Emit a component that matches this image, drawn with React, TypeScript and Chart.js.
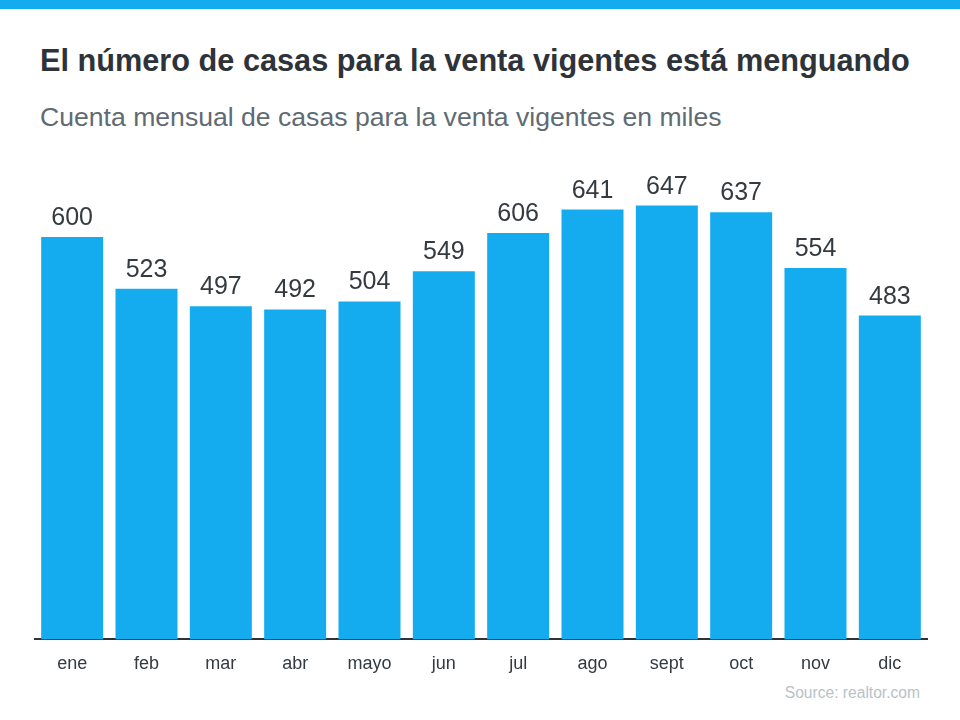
import React, { useEffect, useRef } from "react";
import { Chart, registerables } from "chart.js";

Chart.register(...registerables);

const categories = ["ene", "feb", "mar", "abr", "mayo", "jun", "jul", "ago", "sept", "oct", "nov", "dic"];
const values = [600, 523, 497, 492, 504, 549, 606, 641, 647, 637, 554, 483];

const titleText = "El número de casas para la venta vigentes está menguando";
const subtitleText = "Cuenta mensual de casas para la venta vigentes en miles";
const sourceText = "Source: realtor.com";

const BLUE = "#15acef";
const FONT = "'Liberation Sans', Arial, sans-serif";

const valueLabels = {
  id: "valueLabels",
  afterDatasetsDraw(chart: any) {
    const ctx = chart.ctx;
    const meta = chart.getDatasetMeta(0);
    ctx.save();
    ctx.font = `25px ${FONT}`;
    ctx.fillStyle = "#333a40";
    ctx.textAlign = "center";
    ctx.textBaseline = "alphabetic";
    meta.data.forEach((bar: any, i: number) => {
      ctx.fillText(String(values[i]), bar.x, bar.y - 12);
    });
    ctx.restore();
  },
};

export default function App() {
  const ref = useRef<HTMLCanvasElement>(null);
  useEffect(() => {
    if (!ref.current) return;
    const chart = new Chart(ref.current, {
      type: "bar",
      data: {
        labels: categories,
        datasets: [
          {
            data: values,
            backgroundColor: BLUE,
            borderWidth: 0,
            barPercentage: 0.834,
            categoryPercentage: 1,
          },
        ],
      },
      options: {
        animation: false,
        responsive: false,
        maintainAspectRatio: false,
        layout: { padding: { left: 35, right: 33, top: 29, bottom: 0 } },
        plugins: { legend: { display: false }, tooltip: { enabled: false } },
        scales: {
          y: { display: false, min: 0, max: 700 },
          x: {
            grid: { display: false },
            border: { display: true, color: "#2d3339", width: 2 },
            ticks: { color: "#333a40", font: { family: FONT, size: 18 }, padding: 6 },
          },
        },
      },
      plugins: [valueLabels],
    });
    return () => chart.destroy();
  }, []);

  return (
    <div style={{ position: "fixed", left: 0, top: 0, width: 960, height: 720, background: "#fff", fontFamily: FONT, overflow: "hidden" }}>
      <div style={{ position: "absolute", left: 0, top: 0, width: 960, height: 9, background: BLUE }} />
      <div style={{ position: "absolute", left: 40, top: 43, fontSize: 30.7, fontWeight: "bold", color: "#2d3339", whiteSpace: "nowrap" }}>
        {titleText}
      </div>
      <div style={{ position: "absolute", left: 40, top: 102, fontSize: 26.6, color: "#5f6b73", whiteSpace: "nowrap" }}>
        {subtitleText}
      </div>
      <canvas ref={ref} width={960} height={540} style={{ position: "absolute", left: 0, top: 141, width: 960, height: 540 }} />
      <div style={{ position: "absolute", right: 40, top: 684, fontSize: 15.6, color: "#b8c2c8", whiteSpace: "nowrap" }}>
        {sourceText}
      </div>
    </div>
  );
}
